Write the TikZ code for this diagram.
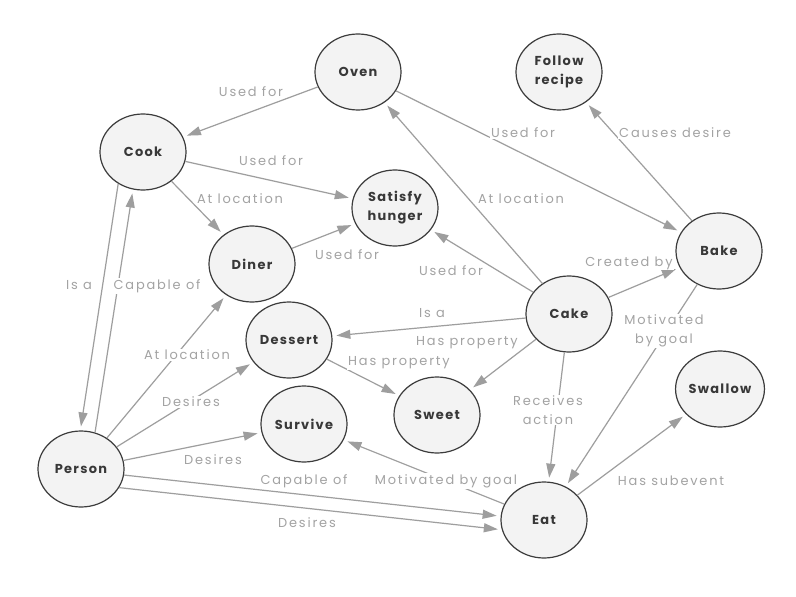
\documentclass[tikz,border=0pt]{standalone}
\usepackage{fontspec}
\setmainfont{Poppins}
\newfontfamily\lblfont{Poppins}[LetterSpace=14]
\newfontfamily\ndfont{Poppins}[LetterSpace=10]
\usetikzlibrary{arrows.meta,shapes.geometric}
\definecolor{nodefill}{HTML}{F3F3F3}
\definecolor{nodeline}{HTML}{3C3C3C}
\definecolor{edgegray}{HTML}{9E9E9E}
\definecolor{lblgray}{HTML}{A3A3A3}
\definecolor{ndtext}{HTML}{383838}
\begin{document}
\begin{tikzpicture}[x=1bp,y=-1bp,
 concept/.style={ellipse, draw=nodeline, line width=1.2bp, fill=nodefill, minimum width=86bp, minimum height=76bp, inner sep=0pt, align=center, font=\ndfont\bfseries\fontsize{13}{19}\selectfont, text=ndtext},
 rel/.style={draw=edgegray, line width=1.2bp, -{Triangle[length=14bp,width=9bp,fill=edgegray]}, shorten >=4bp},
 lbl/.style={font=\lblfont\fontsize{13}{19}\selectfont, text=lblgray, fill=white, inner sep=1bp, align=center}]
\useasboundingbox (0,0) rectangle (796,597);
\fill[white] (0,0) rectangle (796,597);

\node[concept] (oven) at (358,72) {Oven};
\node[concept] (cook) at (143,152) {Cook};
\node[concept] (satisfy) at (395,208) {Satisfy\\hunger};
\node[concept] (diner) at (252,264) {Diner};
\node[concept] (follow) at (559,72) {Follow\\recipe};
\node[concept] (bake) at (719,251) {Bake};
\node[concept] (cake) at (569,314) {Cake};
\node[concept] (dessert) at (289,340) {Dessert};
\node[concept] (survive) at (304,424) {Survive};
\node[concept] (person) at (81,469) {Person};
\node[concept] (sweet) at (437,415) {Sweet};
\node[concept] (eat) at (544,520) {Eat};
\node[concept] (swallow) at (720,389) {Swallow};

\draw[rel] (oven) -- (cook);
\draw[rel] (cook) -- (satisfy);
\draw[rel] (cook) -- (diner);
\draw[rel] (diner) -- (satisfy);
\draw[rel] (oven) -- (bake);
\draw[rel] (bake) -- (follow);
\draw[rel] (cake) -- (oven);
\draw[rel] (cake) -- (satisfy);
\draw[rel] (cake) -- (bake);
\draw[rel] (cake) -- (dessert);
\draw[rel] (cake) -- (sweet);
\draw[rel] (dessert) -- (sweet);
\draw[rel] (cake) -- (eat);
\draw[rel] (bake) -- (eat);
\draw[rel] (eat) -- (swallow);
\draw[rel] (eat) -- (survive);
\draw[rel] (cook.232) -- (person.91);
\draw[rel] (person.69) -- (cook.255);
\draw[rel] (person) -- (diner);
\draw[rel] (person) -- (dessert);
\draw[rel] (person) -- (survive);
\draw[rel] (person.352) -- (eat.175);
\draw[rel] (person.334) -- (eat.193);

\node[lbl] (l1) at (251,92) {Used for};
\node[lbl] (l2) at (271,161) {Used for};
\node[lbl] (l3) at (240,199) {At location};
\node[lbl] (l4) at (347,255) {Used for};
\node[lbl] (l5) at (79,285) {Is a};
\node[lbl] (l6) at (157,286) {Capable of};
\node[lbl] (l7) at (523,133) {Used for};
\node[lbl] (l8) at (675,133) {Causes desire};
\node[lbl] (l9) at (521,199) {At location};
\node[lbl] (l10) at (451,271) {Used for};
\node[lbl] (l11) at (629,263) {Created by};
\node[lbl] (l12) at (432,313) {Is a};
\node[lbl] (l13) at (467,343) {Has property};
\node[lbl] (l14) at (399,363) {Has property};
\node[lbl] (l15) at (548,410) {Receives\\action};
\node[lbl] (l16) at (664,331) {Motivated\\by goal};
\node[lbl] (l17) at (671,481) {Has subevent};
\node[lbl] (l18) at (446,481) {Motivated by goal};
\node[lbl] (l19) at (187,355) {At location};
\node[lbl] (l20) at (191,402) {Desires};
\node[lbl] (l21) at (213,460) {Desires};
\node[lbl] (l22) at (304,481) {Capable of};
\node[lbl] (l23) at (307,523) {Desires};
\end{tikzpicture}
\end{document}
